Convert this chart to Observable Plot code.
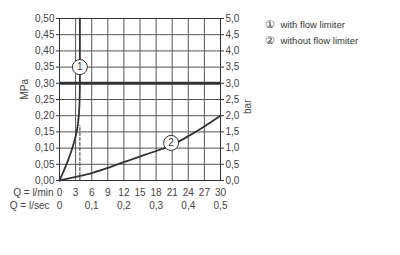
<!DOCTYPE html>
<html><head><meta charset="utf-8">
<script src="https://cdn.jsdelivr.net/npm/d3@7"></script>
<script src="https://cdn.jsdelivr.net/npm/@observablehq/plot@0.6"></script>
<style>body{margin:0;background:#fff} svg{display:block}</style>
</head><body><div id="chart"></div>
<script>
// ---- data ----
const lminTicks = [0, 3, 6, 9, 12, 15, 18, 21, 24, 27, 30];
const lsecTicks = [0, 0.1, 0.2, 0.3, 0.4, 0.5];
const mpaTicks = [0, 0.05, 0.10, 0.15, 0.20, 0.25, 0.30, 0.35, 0.40, 0.45, 0.50];
const barTicks = [0, 0.5, 1.0, 1.5, 2.0, 2.5, 3.0, 3.5, 4.0, 4.5, 5.0];

// curve 1: with flow limiter
const limitedQ = [0, 1.3, 2.4, 3.2, 3.6, 3.75, 3.8, 3.8];
const limitedP = [0, 0.05, 0.10, 0.15, 0.20, 0.25, 0.30, 0.50];
// dashed drop line under curve 1
const dashQ = [3.8, 3.8];
const dashP = [0, 0.17];
// curve 2: without flow limiter
const freeQ = [0, 3, 6, 9, 12, 15, 18, 21, 24, 27, 30];
const freeP = [0, 0.011, 0.023, 0.039, 0.057, 0.074, 0.091, 0.11, 0.137, 0.167, 0.20];
// recommended pressure line
const limitLine = [0.30];
// circled curve markers
const markerQ = [3.8, 20.8];
const markerP = [0.35, 0.116];
const markerLabels = ["1", "2"];
// legend
const legendSymbols = ["\u2460", "\u2461"];
const legendLabels = ["with flow limiter", "without flow limiter"];
const axisTitles = {left: "MPa", right: "bar", row1: "Q = l/min", row2: "Q = l/sec"};

// ---- tables ----
const limited = limitedQ.map((q, i) => ({q, p: limitedP[i]}));
const dash = dashQ.map((q, i) => ({q, p: dashP[i]}));
const free = freeQ.map((q, i) => ({q, p: freeP[i]}));
const markers = markerQ.map((q, i) => ({q, p: markerP[i], label: markerLabels[i]}));
const comma = (f) => (d) => d3.format(f)(d).replace(".", ",");
const ink = "#333";
const txt = "#444";

const legendMarks = legendLabels.flatMap((label, i) => [
  Plot.text([legendSymbols[i]], {frameAnchor: "top-right", dx: 49, dy: 5.5 + i * 16.5, textAnchor: "middle", lineAnchor: "middle", fontSize: 11, fill: ink}),
  Plot.text([label], {frameAnchor: "top-right", dx: 60, dy: 6 + i * 16.5, textAnchor: "start", lineAnchor: "middle", fontSize: 9.5, fill: ink})
]);

const chart = Plot.plot({
  width: 400,
  height: 255,
  marginLeft: 59,
  marginRight: 180,
  marginTop: 18,
  marginBottom: 75,
  style: {fontFamily: "'Liberation Sans', Arial, sans-serif", fontSize: "10px", color: txt, background: "#fff"},
  x: {domain: [0, 30], axis: null},
  y: {domain: [0, 0.5], axis: null},
  marks: [
    Plot.ruleX(lminTicks, {stroke: "#555", strokeWidth: 1}),
    Plot.ruleY(mpaTicks, {stroke: "#555", strokeWidth: 1}),
    Plot.frame({stroke: ink, strokeWidth: 1}),
    Plot.axisY(mpaTicks, {anchor: "left", tickSize: 3, tickPadding: 2, tickFormat: comma(".2f"), label: null, stroke: ink, fill: txt}),
    Plot.axisY(barTicks.map(b => b / 10), {anchor: "right", tickSize: 3, tickPadding: 2, tickFormat: d => comma(".1f")(d * 10), label: null, stroke: ink, fill: txt}),
    Plot.ruleY(limitLine, {stroke: ink, strokeWidth: 3}),
    Plot.line(limited, {x: "q", y: "p", stroke: ink, strokeWidth: 1.8, curve: "monotone-y"}),
    Plot.line(dash, {x: "q", y: "p", stroke: ink, strokeWidth: 1, strokeDasharray: "3,2"}),
    Plot.line(free, {x: "q", y: "p", stroke: ink, strokeWidth: 1.8, curve: "monotone-x"}),
    Plot.dot(markers, {x: "q", y: "p", r: 7.5, fill: "#fff", stroke: ink, strokeWidth: 1}),
    Plot.text(markers, {x: "q", y: "p", text: "label", fill: ink, fontSize: 10}),
    // bottom rows
    Plot.text(lminTicks, {x: d => d, frameAnchor: "bottom", dy: 15, text: d => String(d), fill: txt}),
    Plot.text(lsecTicks, {x: d => d * 60, frameAnchor: "bottom", dy: 28.5, text: d => d === 0 ? "0" : comma(".1f")(d), fill: txt}),
    Plot.text([axisTitles.row1], {frameAnchor: "bottom-left", dx: -6, dy: 15, textAnchor: "end", fill: txt}),
    Plot.text([axisTitles.row2], {frameAnchor: "bottom-left", dx: -10, dy: 28.5, textAnchor: "end", fill: txt}),
    // axis titles
    Plot.text([axisTitles.left], {frameAnchor: "left", dx: -35, rotate: -90, fill: txt}),
    Plot.text([axisTitles.right], {frameAnchor: "right", dx: 27, rotate: -90, fill: txt}),
    // legend
    ...legendMarks
  ]
});
document.getElementById("chart").appendChild(chart);
</script>
</body></html>
